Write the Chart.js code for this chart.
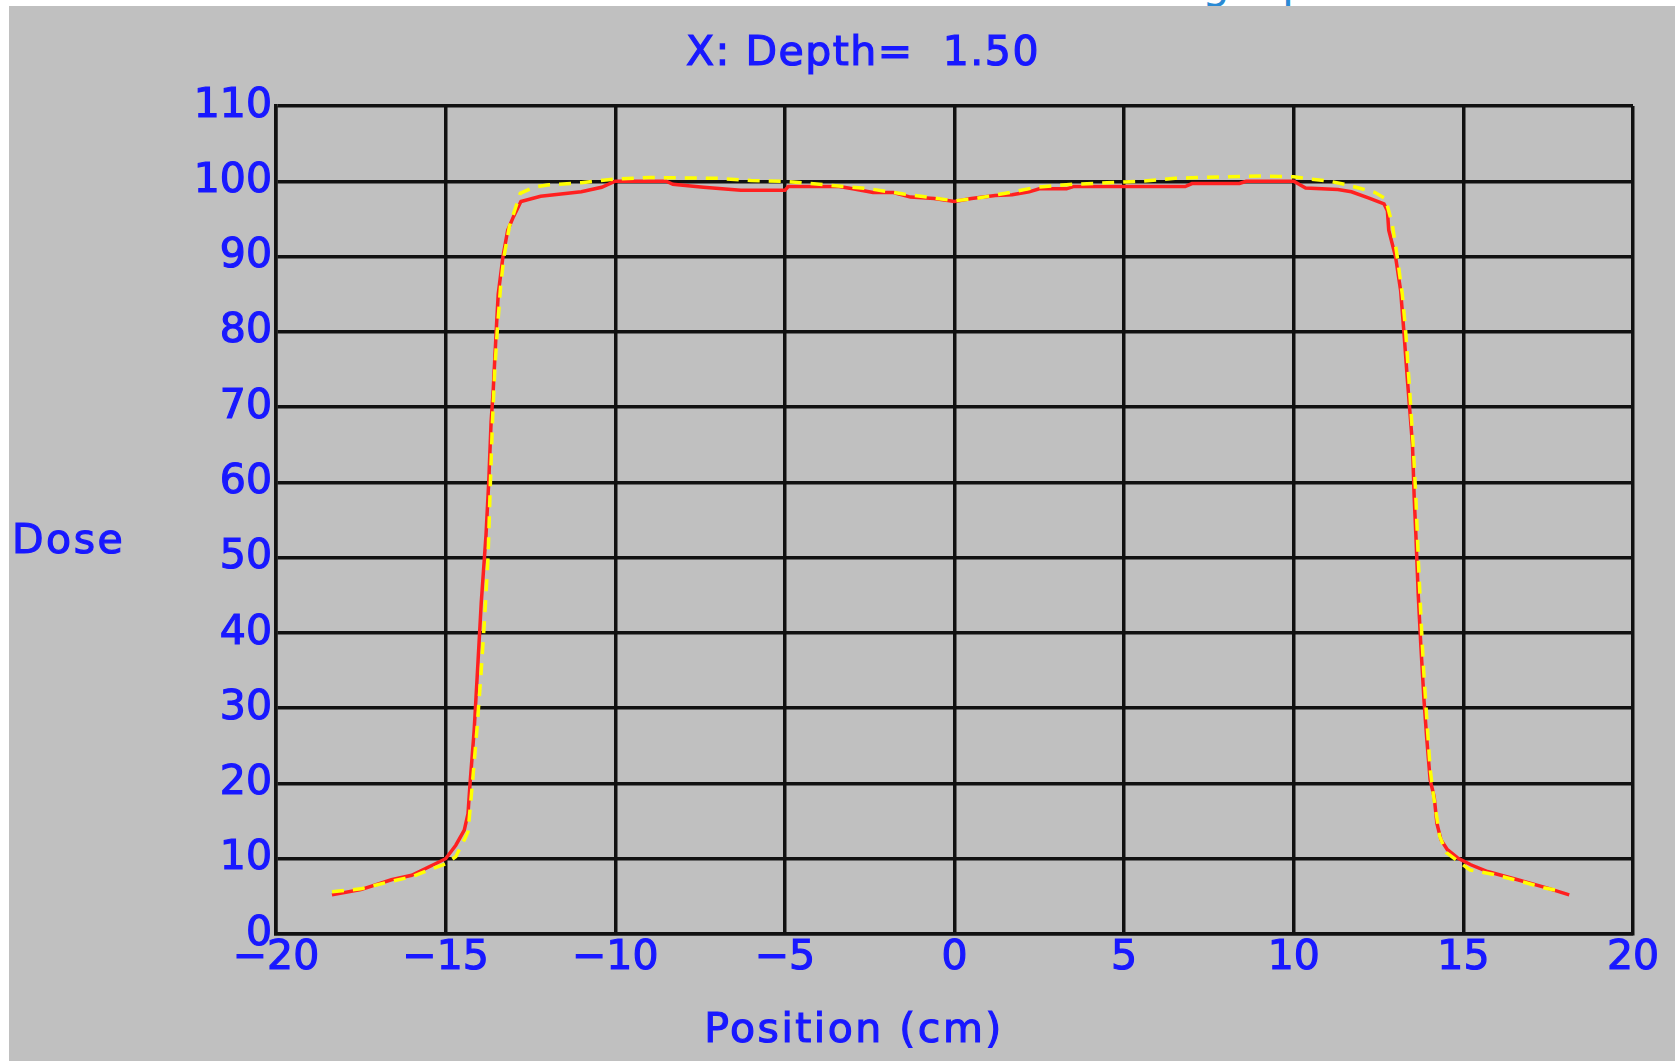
<!DOCTYPE html>
<html>
<head>
<meta charset="utf-8">
<script src="https://cdn.jsdelivr.net/npm/chart.js@4.4.0/dist/chart.umd.min.js"></script>
<style>
html, body { margin: 0; padding: 0; background: #fff; width: 1675px; height: 1061px; overflow: hidden; }
#panel { position: absolute; left: 9px; top: 6px; width: 1666px; height: 1055px; background: #c0c0c0; }
#cut { position: absolute; left: 1190px; top: 0; width: 160px; height: 6px; overflow: hidden; }
#cut span { position: absolute; top: -43px; font: 44px "DejaVu Sans"; color: #2a8ad4; }
</style>
</head>
<body>
<div id="cut"><span style="left:12px">g</span><span style="left:92px">p</span></div>
<div id="panel"><canvas id="profile" width="1666" height="1055"></canvas></div>
<script>
// measured profile (red, solid)
const measuredX = [-18.35, -17.5, -16.6, -16.0, -15.5, -15.0, -14.7, -14.45, -14.34, -14.28, -14.16, -14.06, -13.95, -13.81, -13.73, -13.66, -13.6, -13.51, -13.45, -13.31, -13.17, -13.0, -12.78, -12.2, -11.0, -10.4, -10.0, -8.5, -8.3, -7.4, -6.3, -5.0, -4.9, -3.4, -3.0, -2.4, -1.8, -1.3, -0.6, 0, 0.5, 1.2, 1.7, 2.2, 2.5, 3.3, 3.5, 6.8, 7.0, 8.4, 8.6, 10.0, 10.35, 11.3, 11.7, 12.2, 12.66, 12.76, 12.8, 13.0, 13.15, 13.25, 13.35, 13.5, 13.55, 13.6, 13.67, 13.75, 13.84, 13.92, 14.02, 14.14, 14.22, 14.34, 14.53, 14.83, 15.22, 15.71, 16.6, 17.48, 18.12];
const measuredY = [5.2, 5.9, 7.2, 7.8, 8.9, 10.0, 11.8, 13.8, 16.0, 20.0, 27, 35, 44, 53, 60, 68, 72, 80, 85, 90, 93.5, 95.3, 97.3, 98.0, 98.6, 99.2, 100, 100, 99.6, 99.2, 98.8, 98.8, 99.3, 99.3, 99.0, 98.5, 98.5, 97.9, 97.7, 97.3, 97.7, 98.1, 98.2, 98.6, 99.0, 99.0, 99.3, 99.3, 99.7, 99.7, 100, 100, 99.1, 98.9, 98.6, 97.8, 97.0, 96.1, 93.5, 90, 85.5, 79.8, 73.6, 65, 58, 53, 45, 38, 31, 26, 20.5, 18.2, 14.7, 12.5, 11.2, 10.1, 9.2, 8.3, 7.2, 6.1, 5.2];

// calculated profile (yellow, dashed)
const calcX = [-18.35, -17.5, -16.6, -16.0, -15.5, -15.0, -14.7, -14.45, -14.34, -14.22, -14.08, -13.95, -13.85, -13.75, -13.68, -13.62, -13.55, -13.48, -13.38, -13.28, -13.12, -12.8, -12.4, -12.0, -11.0, -10.0, -9.0, -7.0, -6.0, -5.0, -4.5, -3.5, -2.5, -1.5, -0.8, 0, 0.6, 1.5, 2.4, 3.5, 4.5, 5.5, 6.5, 8.0, 9.0, 10.0, 10.5, 11.0, 11.5, 12.0, 12.4, 12.7, 12.9, 13.05, 13.2, 13.3, 13.42, 13.52, 13.6, 13.67, 13.75, 13.83, 13.93, 14.02, 14.1, 14.2, 14.3, 14.5, 15.2, 15.9, 16.6, 17.4, 17.9];
const calcY = [5.6, 6.0, 7.0, 7.6, 8.5, 9.3, 10.3, 12.5, 13.6, 19.5, 27, 35, 42, 50, 60, 68, 75, 80, 86, 90, 94, 98.4, 99.2, 99.5, 99.8, 100.3, 100.5, 100.4, 100.1, 100.0, 99.8, 99.4, 99.0, 98.3, 97.9, 97.4, 97.7, 98.4, 99.2, 99.6, 99.8, 100.0, 100.4, 100.6, 100.7, 100.6, 100.3, 100.05, 99.6, 99.0, 98.5, 97.7, 94.4, 90, 85, 80, 72, 65, 58, 50, 42, 35, 28, 22, 19, 16, 13, 10.8, 8.5, 7.9, 7.1, 6.1, 5.7];

const xTicks = [-20, -15, -10, -5, 0, 5, 10, 15, 20];
const yTicks = [0, 10, 20, 30, 40, 50, 60, 70, 80, 90, 100, 110];

const blue = '#1818ff';
const tickFont = { family: 'DejaVu Sans', size: 41 };

const toPoints = (xs, ys) => xs.map((x, i) => ({ x: x, y: ys[i] }));

// titles are drawn by hand so "Dose" can stay horizontal
const labels = {
    id: 'labels',
    afterDraw(chart) {
        const ctx = chart.ctx;
        ctx.save();
        ctx.fillStyle = blue;
        ctx.strokeStyle = blue;
        ctx.lineWidth = 1.2;
        ctx.font = '41px "DejaVu Sans"';
        ctx.textBaseline = 'alphabetic';
        const put = (text, x, y) => { ctx.fillText(text, x, y); ctx.strokeText(text, x, y); };
        ctx.letterSpacing = '1.5px';
        ctx.textAlign = 'center';
        put('X: Depth=  1.50', 854, 59);
        ctx.letterSpacing = '2.5px';
        put('Position (cm)', 845, 1036);
        ctx.textAlign = 'left';
        put('Dose', 3, 547);
        ctx.restore();
    }
};

new Chart(document.getElementById('profile'), {
    type: 'line',
    data: {
        datasets: [
            {
                label: 'Calculated',
                data: toPoints(calcX, calcY),
                borderColor: '#ffff00',
                borderWidth: 3.5,
                borderDash: [12, 9],
                pointRadius: 0,
                tension: 0,
                order: 0
            },
            {
                label: 'Measured',
                data: toPoints(measuredX, measuredY),
                borderColor: '#ff2020',
                borderWidth: 3.5,
                pointRadius: 0,
                tension: 0,
                order: 1
            }
        ]
    },
    options: {
        responsive: false,
        animation: false,
        devicePixelRatio: 1,
        layout: { padding: { left: 0, top: 100, right: 42, bottom: 0 } },
        plugins: {
            legend: { display: false },
            title: { display: false },
            tooltip: { enabled: false }
        },
        scales: {
            x: {
                type: 'linear',
                min: xTicks[0],
                max: xTicks[xTicks.length - 1],
                afterBuildTicks: s => { s.ticks = xTicks.map(v => ({ value: v })); },
                afterFit: s => { s.height = 127; },
                ticks: {
                    color: blue,
                    font: tickFont,
                    padding: 0,
                    maxRotation: 0,
                    autoSkip: false,
                    textStrokeColor: blue,
                    textStrokeWidth: 1.2,
                    callback: v => String(v).replace('-', '\u2212')
                },
                grid: { color: '#111', lineWidth: 3.5, drawTicks: false },
                border: { color: '#111', width: 3.5 }
            },
            y: {
                min: yTicks[0],
                max: yTicks[yTicks.length - 1],
                afterBuildTicks: s => { s.ticks = yTicks.map(v => ({ value: v })); },
                afterFit: s => { s.width = 267; },
                ticks: {
                    color: blue,
                    font: tickFont,
                    padding: 4,
                    autoSkip: false,
                    textStrokeColor: blue,
                    textStrokeWidth: 1.2
                },
                grid: { color: '#111', lineWidth: 3.5, drawTicks: false },
                border: { color: '#111', width: 3.5 }
            }
        }
    },
    plugins: [labels]
});
</script>
</body>
</html>
